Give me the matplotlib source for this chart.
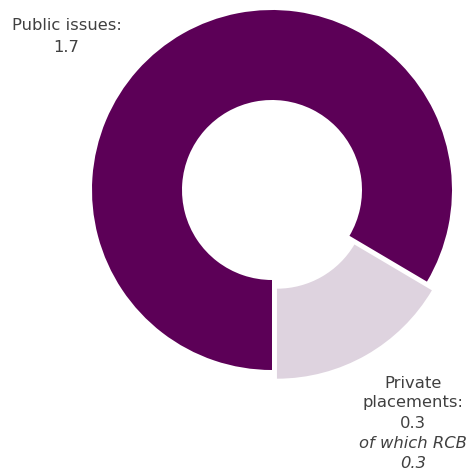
import matplotlib.pyplot as plt

# issuance split, EUR bn
categories = ["Public issues", "Private placements"]
values = [1.67, 0.33]
rcb_value = 0.33
colors = ["#5c0057", "#ded3df"]

W, H = 474, 472

fig = plt.figure(figsize=(W / 100, H / 100), dpi=100)
ax = fig.add_axes([0, 0, 1, 1])

total = sum(values)
start = -90 + 360 * values[1] / total

# explode is in data units here (pixels), pie doesn't scale it by radius
ax.pie(values, colors=colors, startangle=start, counterclock=True,
       radius=180, center=(272, H - 190), explode=[0, 10],
       wedgeprops=dict(width=90, edgecolor="none", linewidth=0),
       frame=True)
ax.set_xlim(0, W)
ax.set_ylim(0, H)
ax.set_aspect("equal")
ax.axis("off")

txt = dict(color="#404040", fontsize=11.8, ha="center", va="center",
           family="DejaVu Sans")

pub_lines = [f"{categories[0]}:", f"{values[0]:.1f}"]
for i, s in enumerate(pub_lines):
    ax.text(66.5, H - (26 + 21 * i), s, **txt)

priv_lines = ["Private", "placements:", f"{values[1]:.1f}"]
for i, s in enumerate(priv_lines):
    ax.text(413, H - (383 + 20 * i), s, **txt)
rcb_lines = ["of which RCB", f"{rcb_value:.1f}"]
for i, s in enumerate(rcb_lines):
    ax.text(413, H - (443 + 20 * i), s, style="italic", **txt)

fig.savefig("out.png", dpi=100)
